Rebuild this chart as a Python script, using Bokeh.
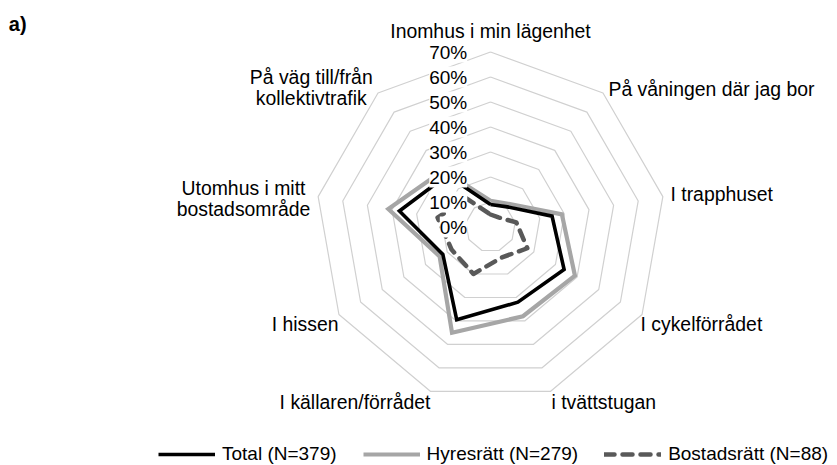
import numpy as np
from bokeh.plotting import figure
from bokeh.models import Range1d, Label
from bokeh.embed import file_html
from bokeh.resources import INLINE

# ---------------- data ----------------
categories = [
    "Inomhus i min lägenhet",
    "På våningen där jag bor",
    "I trapphuset",
    "I cykelförrådet",
    "i tvättstugan",
    "I källaren/förrådet",
    "I hissen",
    "Utomhus i mitt\nbostadsområde",
    "På väg till/från\nkollektivtrafik",
]
total = [9, 10.5, 25, 34, 32, 39.5, 22, 37, 27]
hyresratt = [10.5, 12, 29, 39, 38, 45, 23.5, 41.5, 29.5]
bostadsratt = [5, 5, 10.5, 17, 13, 20, 18, 21.5, 15]
series_names = ["Total (N=379)", "Hyresrätt (N=279)", "Bostadsrätt (N=88)"]
tick_values = [0, 10, 20, 30, 40, 50, 60, 70]
tick_labels = ["0%", "10%", "20%", "30%", "40%", "50%", "60%", "70%"]
panel_label = "a)"

# ---------------- layout ----------------
FONT = "Liberation Sans"
FS = "19.4px"
FS_TICK = "19px"
FS_LEG = "19px"
PX = 2.5                 # pixels per percentage point
CX, CY = 490.0, 226.5    # chart centre in the picture
W, H = 837, 465
x_start, x_end = (0 - CX) / PX, (W - CX) / PX
y_start, y_end = (CY - H) / PX, (CY - 0) / PX

n = len(categories)
theta = np.arange(n) * 2 * np.pi / n


def polar(values):
    r = np.asarray(values, dtype=float)
    x = r * np.sin(theta)
    y = r * np.cos(theta)
    return list(x) + [x[0]], list(y) + [y[0]]


p = figure(width=W, height=H, output_backend="svg", toolbar_location=None,
           x_range=Range1d(x_start, x_end), y_range=Range1d(y_start, y_end),
           x_axis_location=None, y_axis_location=None, min_border=0,
           background_fill_color="white", border_fill_color="white")
p.outline_line_color = None
p.grid.visible = False

# grid rings
ring_xs, ring_ys = [], []
for v in tick_values[1:]:
    gx, gy = polar([v] * n)
    ring_xs.append(gx)
    ring_ys.append(gy)
p.multi_line(ring_xs, ring_ys, line_color="#d0d0d0", line_width=1.2)

# series
hx, hy = polar(hyresratt)
tx, ty = polar(total)
bx, by = polar(bostadsratt)
r_h = p.line(hx, hy, line_color="#a6a6a6", line_width=4.2, line_join="miter",
             legend_label=series_names[1])
r_t = p.line(tx, ty, line_color="#000000", line_width=3.6, line_join="miter",
             legend_label=series_names[0])
r_b = p.line(bx, by, line_color="#595959", line_width=4.5, line_dash="10 8",
             line_cap="round", line_join="round", legend_label=series_names[2])

# legend order
leg = p.legend[0]
items = {it.label.value: it for it in leg.items}
leg.items = [items[s] for s in series_names]
leg.orientation = "horizontal"
leg.location = (158, 0)
leg.glyph_width = 57
leg.glyph_height = 20
leg.label_height = 20
leg.label_standoff = 7
leg.spacing = 26
leg.padding = 0
leg.margin = 0
leg.label_text_font = FONT
leg.label_text_font_size = FS_LEG
leg.label_text_color = "#000000"
leg.background_fill_alpha = 0
leg.border_line_alpha = 0

# radial tick labels (with white box, drawn over the lines)
for v, t in zip(tick_values, tick_labels):
    p.add_layout(Label(x=-9.3, y=v, text=t, text_align="right", text_baseline="middle",
                       text_font=FONT, text_font_size=FS_TICK, text_color="#000000",
                       background_fill_color="white"))

# category labels
cat_pos = [
    (0.0, 78.6, "center"),
    (47.2, 55.4, "left"),
    (72.0, 13.4, "left"),
    (60.0, -38.6, "left"),
    (24.4, -69.8, "left"),
    (-24.0, -69.8, "right"),
    (-60.8, -38.6, "right"),
    (-98.8, 11.5, "center"),
    (-71.7, 55.8, "center"),
]
for name, (lx, ly, al) in zip(categories, cat_pos):
    p.add_layout(Label(x=lx, y=ly, text=name, text_align=al, text_baseline="middle",
                       text_font=FONT, text_font_size=FS, text_color="#000000",
                       text_line_height=0.96))

p.add_layout(Label(x=(8.3 - CX) / PX, y=(CY - 23.0) / PX, text=panel_label,
                   text_align="left", text_baseline="middle", text_font=FONT,
                   text_font_size="20px", text_font_style="bold", text_color="#000000"))

open("out.html", "w").write(file_html(p, INLINE))
